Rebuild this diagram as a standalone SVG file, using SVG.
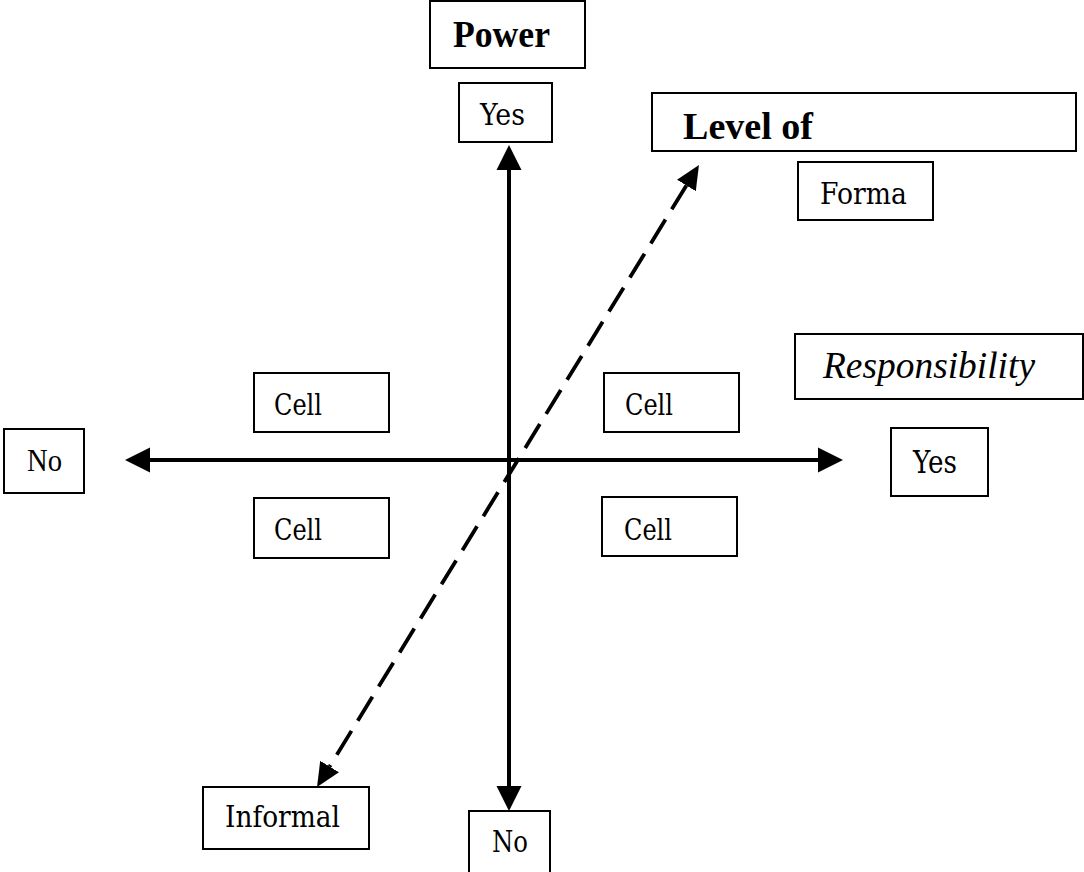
<svg xmlns="http://www.w3.org/2000/svg" width="1084" height="872" viewBox="0 0 1084 872">
<defs>
<style>
.box{fill:#fff;stroke:#000;stroke-width:2}
.t{font-family:"Liberation Serif","Times New Roman",serif;fill:#000}
.c{font-family:"DejaVu Serif","Liberation Serif",serif;fill:#000}
.axis{stroke:#000;stroke-width:4;fill:none}
.dash{stroke:#000;stroke-width:3.8;fill:none;stroke-dasharray:28 12}
</style>
<marker id="ah" markerUnits="userSpaceOnUse" markerWidth="26" markerHeight="26" viewBox="0 -13 26 26" refX="0" refY="0" orient="auto-start-reverse">
<path d="M0,-12.5 L25,0 L0,12.5 z" fill="#000"/>
</marker>
<marker id="dh" markerUnits="userSpaceOnUse" markerWidth="26" markerHeight="26" viewBox="0 -13 26 26" refX="0" refY="0" orient="auto-start-reverse">
<path d="M0,-11 L24,0 L0,11 z" fill="#000"/>
</marker>
</defs>
<rect width="1084" height="872" fill="#fff"/>
<g id="connectors">
<line class="axis" x1="150" y1="460" x2="818" y2="460" marker-start="url(#ah)" marker-end="url(#ah)"/>
<line class="axis" x1="509" y1="170" x2="509" y2="786" marker-start="url(#ah)" marker-end="url(#ah)"/>
<line class="dash" x1="686.4" y1="185.5" x2="329.6" y2="766.5" marker-start="url(#dh)" marker-end="url(#dh)"/>
</g>
<g id="power"><rect class="box" x="430" y="1" width="155" height="67"/><text class="t" x="453" y="47" font-size="37" font-weight="bold" textLength="97" lengthAdjust="spacingAndGlyphs">Power</text></g>
<g id="yes-top"><rect class="box" x="459" y="83" width="93" height="59"/><text class="c" x="480" y="125" font-size="30" textLength="45" lengthAdjust="spacingAndGlyphs">Yes</text></g>
<g id="level-of"><rect class="box" x="652" y="93" width="424" height="58"/><text class="t" x="683" y="139" font-size="38" font-weight="bold" textLength="130" lengthAdjust="spacingAndGlyphs">Level of</text></g>
<g id="forma"><rect class="box" x="798" y="162" width="135" height="58"/><text class="c" x="820" y="204" font-size="29" textLength="87" lengthAdjust="spacingAndGlyphs">Forma</text></g>
<g id="responsibility"><rect class="box" x="795" y="334" width="288" height="65"/><text class="t" x="823" y="378" font-size="37" font-style="italic" textLength="212" lengthAdjust="spacingAndGlyphs">Responsibility</text></g>
<g id="cell-tl"><rect class="box" x="254" y="373" width="135" height="59"/><text class="c" x="274" y="415" font-size="29" textLength="48" lengthAdjust="spacingAndGlyphs">Cell</text></g>
<g id="cell-tr"><rect class="box" x="604" y="373" width="135" height="59"/><text class="c" x="625" y="415" font-size="29" textLength="48" lengthAdjust="spacingAndGlyphs">Cell</text></g>
<g id="cell-bl"><rect class="box" x="254" y="498" width="135" height="60"/><text class="c" x="274" y="540" font-size="29" textLength="48" lengthAdjust="spacingAndGlyphs">Cell</text></g>
<g id="cell-br"><rect class="box" x="602" y="497" width="135" height="59"/><text class="c" x="624" y="540" font-size="29" textLength="48" lengthAdjust="spacingAndGlyphs">Cell</text></g>
<g id="no-left"><rect class="box" x="4" y="429" width="80" height="64"/><text class="t" x="27" y="471" font-size="31" textLength="35" lengthAdjust="spacingAndGlyphs">No</text></g>
<g id="yes-right"><rect class="box" x="891" y="428" width="97" height="68"/><text class="c" x="913" y="473" font-size="31" textLength="44" lengthAdjust="spacingAndGlyphs">Yes</text></g>
<g id="informal"><rect class="box" x="203" y="787" width="166" height="62"/><text class="c" x="225" y="827" font-size="29" textLength="115" lengthAdjust="spacingAndGlyphs">Informal</text></g>
<g id="no-bottom"><rect class="box" x="469" y="811" width="81" height="70"/><text class="c" x="492" y="852" font-size="30" textLength="36" lengthAdjust="spacingAndGlyphs">No</text></g>
</svg>
